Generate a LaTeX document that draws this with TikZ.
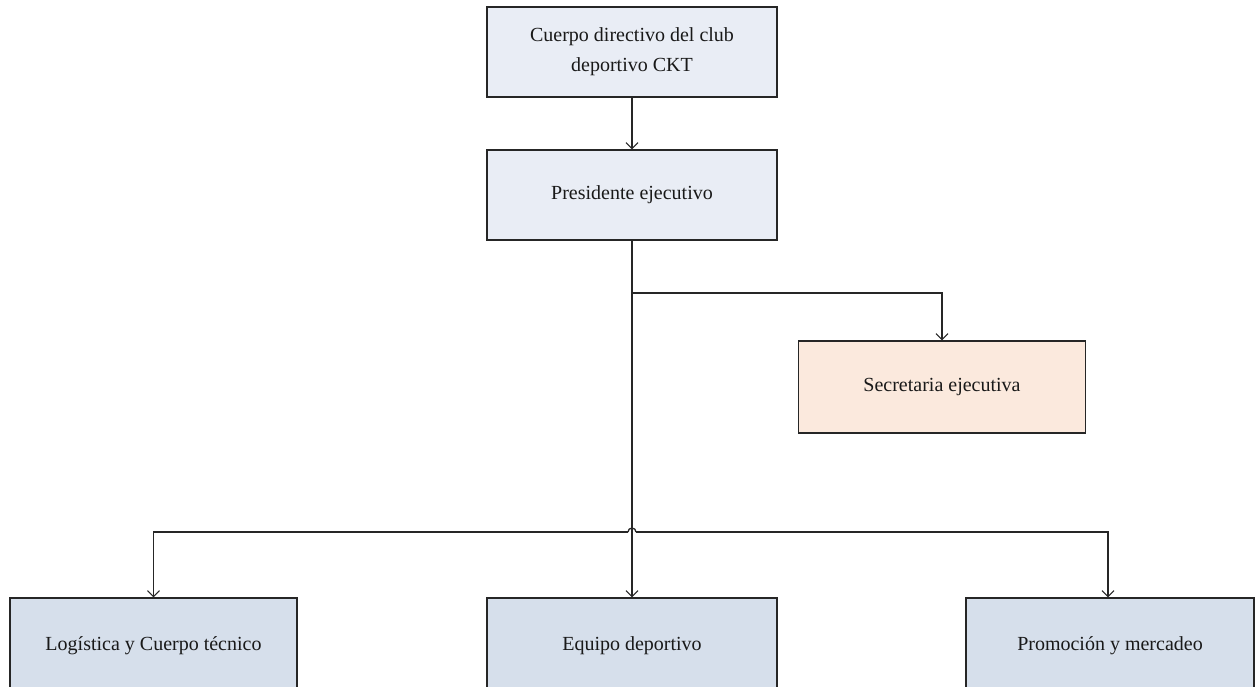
\documentclass[tikz,border=0pt]{standalone}
\usepackage{fontspec}
\setmainfont{Liberation Serif}
\usetikzlibrary{arrows.meta}
\definecolor{boxtop}{HTML}{E9EDF5}
\definecolor{boxsec}{HTML}{FBE9DD}
\definecolor{boxbot}{HTML}{D6DFEB}
\definecolor{edge}{HTML}{262626}
\tikzset{
  unit/.style={draw=edge, line width=1.3pt, minimum width=290pt, minimum height=90pt,
    inner sep=0pt, align=center, font=\fontsize{20}{30}\selectfont, text=black!90},
  link/.style={draw=edge, line width=1.3pt},
  arr/.style={link, -{Straight Barb[length=6pt,width=12pt,line width=1.1pt]}}
}
\begin{document}
\begin{tikzpicture}[x=1pt,y=-1pt]
\useasboundingbox (0,0) rectangle (1260,687);
\begin{scope}
\clip (0,0) rectangle (1260,687);
\node[unit, fill=boxtop] (cuerpo) at (632,52) {Cuerpo directivo del club\\deportivo CKT};
\node[unit, fill=boxtop] (pres) at (632,195) {Presidente ejecutivo};
\node[unit, fill=boxsec, minimum width=287pt, minimum height=92pt] (secr) at (942,387) {Secretaria ejecutiva};
\node[unit, fill=boxbot, minimum width=287pt, minimum height=96pt] (logi) at (153.5,646) {Logística y Cuerpo técnico};
\node[unit, fill=boxbot, minimum height=96pt] (equipo) at (632,646) {Equipo deportivo};
\node[unit, fill=boxbot, minimum width=288pt, minimum height=96pt] (promo) at (1110,646) {Promoción y mercadeo};

\coordinate (tap) at (632,293);
\coordinate (hopL) at (628,532);
\coordinate (hopR) at (636,532);

\draw[arr] (cuerpo) -- (pres);
\draw[arr] (pres.south) -- (equipo.north);
\draw[arr] (tap) -| (secr.north);
\draw[arr] (hopL) -| (logi.north);
\draw[arr] (hopR) -| ([xshift=-2pt]promo.north);
\draw[link] (hopL) arc[start angle=180, end angle=0, radius=4pt];
\end{scope}
\end{tikzpicture}
\end{document}
